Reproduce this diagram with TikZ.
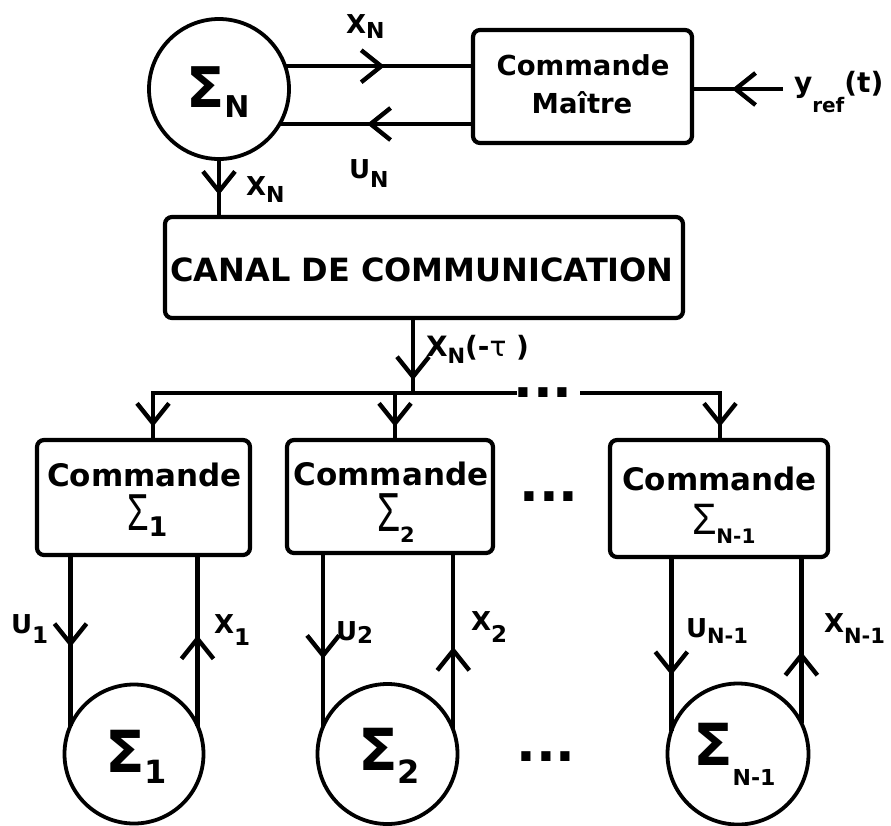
\documentclass[tikz,border=0pt]{standalone}
\usepackage{fontspec}
\setmainfont{DejaVu Sans}
\newfontfamily\thinsans{Liberation Sans}
\usepackage{graphicx}
\usetikzlibrary{arrows.meta,decorations.markings}
\newcommand\myfs[1]{\fontsize{#1}{#1}\selectfont}
\newcommand\mysub[3]{\raisebox{-#2pt}{\myfs{#1}#3}}
\newcommand\mysig{\symbol{"03A3}}
\begin{document}
\begin{tikzpicture}[x=1pt,y=-1pt,
  lw/.style={line width=4.4pt},
  blk/.style={draw,line width=4.2pt,rounded corners=7pt,inner sep=0pt,outer sep=0pt},
  sys/.style={draw,circle,line width=3.8pt,inner sep=0pt,outer sep=0pt,minimum size=#1},
  txt/.style={inner sep=0pt,outer sep=0pt,font=\bfseries},
  midarr/.style={postaction={decorate,decoration={markings,mark=at position #1 with {\arrow{Straight Barb[length=20pt,width=32pt]}}}}},
]
\useasboundingbox (0,0) rectangle (891,825);
% systems
\node[sys=140pt] (SN) at (219,89) {};
\node[sys=139pt] (S1) at (134,754) {};
\node[sys=140pt] (S2) at (387.5,754) {};
\node[sys=141pt] (S3) at (738,754) {};
% boxes
\node[blk,minimum width=219pt,minimum height=113pt] (CM) at (582.5,86.5) {};
\node[blk,minimum width=518pt,minimum height=101pt] (C) at (424,267.5) {};
\node[blk,minimum width=213pt,minimum height=115pt] (B1) at (143.5,497.5) {};
\node[blk,minimum width=206pt,minimum height=113pt] (B2) at (390,496.5) {};
\node[blk,minimum width=218pt,minimum height=117pt] (B3) at (719,498.5) {};
% box texts
\node[txt,anchor=base] (tCM1) at (583,75) {\myfs{27.5}Commande};
\node[txt,anchor=base] (tCM2) at (582,113) {\myfs{27.5}Maître};
\node[txt,anchor=base] (tC) at (422,281) {\myfs{32}CANAL DE COMMUNICATION};
\node[txt,anchor=base] (tB1) at (144.5,486) {\myfs{31}Commande};
\node[txt,anchor=base] (tB2) at (391,485) {\myfs{31}Commande};
\node[txt,anchor=base] (tB3) at (719.5,490) {\myfs{31}Commande};
\node[txt,anchor=base west] (sB1) at (127,530) {{\thinsans\mdseries\myfs{52}\raisebox{0pt}[29pt][0pt]{\scalebox{0.67}[1]{\mysig}}}\mysub{27}{6}{1}};
\node[txt,anchor=base west] (sB2) at (377,531) {{\thinsans\mdseries\myfs{55}\raisebox{0pt}[31pt][0pt]{\scalebox{0.68}[1]{\mysig}}}\mysub{21}{11}{2}};
\node[txt,anchor=base west] (sB3) at (692,534) {{\thinsans\mdseries\myfs{44}\raisebox{0pt}[25pt][0pt]{\scalebox{0.9}[1]{\mysig}}}\mysub{20}{9}{N-1}};
% circle texts
\node[txt,anchor=base west] (sSN) at (186,107) {{\myfs{56}\mysig}\mysub{30}{10}{N}};
\node[txt,anchor=base west] (sS1) at (105,772) {{\myfs{58}\mysig}\mysub{32}{11}{1}};
\node[txt,anchor=base west] (sS2) at (358,770) {{\myfs{58}\mysig}\mysub{32}{13}{2}};
\node[txt,anchor=base west] (sS3) at (693,765) {{\myfs{58}\mysig}\mysub{22}{20}{N-1}};
% dots
\node[txt] (d1) at (543,393) {\myfs{52}...};
\node[txt] (d2) at (549,497) {\myfs{52}...};
\node[txt] (d3) at (546,757) {\myfs{52}...};
% labels
\node[txt,anchor=base west] (lXNt) at (346,33) {\myfs{26}X\mysub{22}{5}{N}};
\node[txt,anchor=base west] (lUN) at (349,178) {\myfs{26}U\mysub{22}{9}{N}};
\node[txt,anchor=base west] (lXNd) at (246,195) {\myfs{26}X\mysub{22}{7}{N}};
\node[txt,anchor=base west] (lXtau) at (426,356) {\myfs{28}X\mysub{21}{7}{N}(-{\mdseries τ} )};
\node[txt,anchor=base west] (lyref) at (794,92) {\myfs{28}y\mysub{20}{20}{ref}(t)};
\node[txt,anchor=base west] (lU1) at (11,633) {\myfs{26}U\mysub{23}{10}{1}};
\node[txt,anchor=base west] (lX1) at (214,633) {\myfs{26}X\mysub{23}{12}{1}};
\node[txt,anchor=base west] (lU2) at (336,640) {\myfs{26}U\mysub{23}{3}{2}};
\node[txt,anchor=base west] (lX2) at (471,630) {\myfs{26}X\mysub{23}{12}{2}};
\node[txt,anchor=base west] (lUN1) at (686,637) {\myfs{26}U\mysub{21}{6}{N-1}};
\node[txt,anchor=base west] (lXN1) at (824,632) {\myfs{26}X\mysub{21}{11}{N-1}};
% coordinates
\coordinate (b1) at (153,393);
\coordinate (b2) at (395,393);
\coordinate (b3) at (720,393);
\coordinate (bc) at (413,393);
\coordinate (g1) at (515,393);
\coordinate (g2) at (582,393);
\coordinate (yin) at (783,89);
% top connectors
\draw[lw,midarr=0.53] (SN.19) -- (SN.19 -| CM.west);
\draw[lw,midarr=0.548] (SN.-30 -| CM.west) -- (SN.-30);
\draw[lw,midarr=0.56] (yin) -- (yin -| CM.east);
\draw[lw,midarr=0.62] (SN.south) -- (SN.south |- C.north);
\draw[lw,midarr=0.83] (bc |- C.south) -- (bc);
% bus
\draw[lw,line cap=rect] (b1) -- (g1);
\draw[lw,line cap=rect] (g2) -- (b3);
\draw[lw,line cap=rect,midarr=0.72] (b1) -- (b1 |- B1.north);
\draw[lw,midarr=0.72] (b2) -- (b2 |- B2.north);
\draw[lw,line cap=rect,midarr=0.72] (b3) -- (b3 |- B3.north);
% lower loops
\draw[lw,midarr=0.54] (S1.156 |- B1.south) -- (S1.156);
\draw[lw,midarr=0.53] (S1.24) -- (S1.24 |- B1.south);
\draw[lw,midarr=0.61] (S2.157 |- B2.south) -- (S2.157);
\draw[lw,midarr=0.47] (S2.20) -- (S2.20 |- B2.south);
\draw[lw,midarr=0.68] (S3.161 |- B3.south) -- (S3.161);
\draw[lw,midarr=0.43] (S3.26) -- (S3.26 |- B3.south);
\end{tikzpicture}
\end{document}
